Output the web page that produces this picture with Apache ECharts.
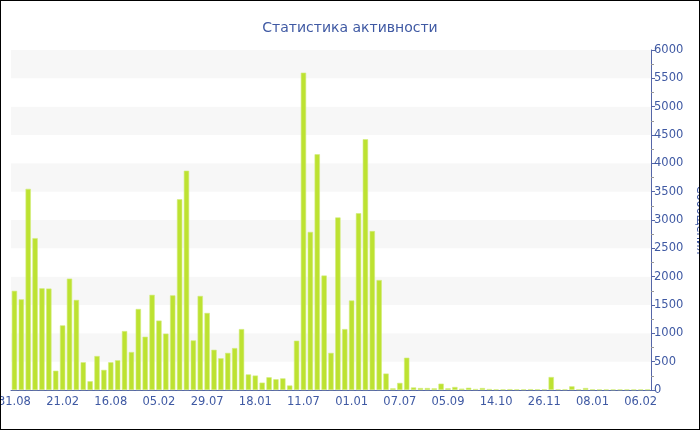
<!DOCTYPE html>
<html>
<head>
<meta charset="utf-8">
<script src="https://cdn.jsdelivr.net/npm/echarts@6/dist/echarts.min.js"></script>
<style>
html,body{margin:0;padding:0;background:#fff;}
#c{width:700px;height:430px;box-sizing:border-box;border:1px solid #000;}
</style>
</head>
<body>
<div id="c"></div>
<script>
// Visible tick labels (every 7th category)
var tickLabels = ['31.08','21.02','16.08','05.02','29.07','18.01','11.07','01.01','07.07','05.09','14.10','26.11','08.01','06.02'];
// Message counts per period
var messages = [
  1750, 1600, 3550, 2680, 1795, 1790, 340, 1140, 1965, 1590,
  490, 155, 600, 355, 490, 525, 1040, 670, 1430, 940,
  1680, 1225, 995, 1670, 3365, 3870, 875, 1660, 1360, 710,
  560, 655, 740, 1075, 275, 255, 130, 225, 190, 205,
  80, 870, 5600, 2790, 4160, 2020, 655, 3045, 1075, 1580,
  3120, 4425, 2805, 1940, 290, 30, 125, 570, 45, 35,
  35, 30, 112, 30, 53, 24, 40, 18, 35, 18,
  12, 12, 15, 12, 12, 15, 12, 12, 229, 12,
  12, 65, 12, 35, 12, 10, 10, 10, 10, 10,
  10, 10, 10
];
var categories = [];
for (var i = 0; i < messages.length; i++) {
  categories.push(i % 7 === 0 ? (tickLabels[i / 7] || '') : '');
}
var blue = '#3f59a3';
var chart = echarts.init(document.getElementById('c'));
chart.setOption({
  animation: false,
  title: {
    text: 'Статистика активности',
    left: 'center',
    top: 15,
    textStyle: {color: blue, fontSize: 14, fontWeight: 'normal', fontFamily: 'DejaVu Sans'}
  },
  grid: {left: 10, right: 48, top: 49, bottom: 39, containLabel: false, outerBoundsMode: 'none'},
  xAxis: {
    type: 'category',
    data: categories,
    axisLine: {lineStyle: {color: '#5566a8', width: 1}},
    axisTick: {interval: 6, alignWithLabel: true, length: 4, lineStyle: {color: '#999'}},
    axisLabel: {interval: 6, color: blue, fontSize: 11.5, fontFamily: 'DejaVu Sans', margin: 6, hideOverlap: false}
  },
  yAxis: {
    type: 'value',
    position: 'right',
    min: 0, max: 6000, interval: 500,
    name: 'Сообщения',
    nameLocation: 'middle',
    nameRotate: -90,
    nameGap: 38,
    nameTextStyle: {color: blue, fontSize: 11.5, fontFamily: 'DejaVu Sans'},
    axisLine: {show: true, lineStyle: {color: '#5566a8'}},
    axisTick: {show: true, length: 4, lineStyle: {color: '#5566a8'}},
    minorTick: {show: true, splitNumber: 2, length: 3, lineStyle: {color: '#999'}},
    axisLabel: {color: blue, fontSize: 11.5, fontFamily: 'DejaVu Sans', margin: 3, formatter: function (v) { return String(v); }},
    splitLine: {show: false},
    splitArea: {show: true, areaStyle: {color: ['#ffffff', '#f7f7f7']}}
  },
  series: [{
    type: 'bar',
    data: messages,
    barWidth: '77%',
    itemStyle: {color: '#bde231', borderColor: '#d2ec7c', borderWidth: 0.6}
  }]
});
</script>
</body>
</html>
